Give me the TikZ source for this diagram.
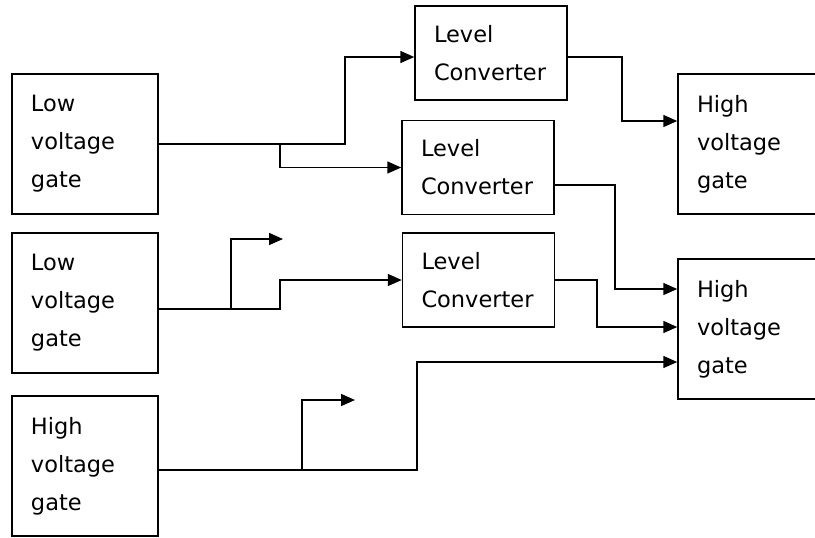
\documentclass[tikz,border=0pt]{standalone}
\usepackage{fontspec}
\setmainfont{DejaVu Sans}
\usetikzlibrary{arrows.meta}

\begin{document}
\begin{tikzpicture}[x=0.5pt,y=-0.5pt,line width=0.75pt,
        gatebox/.style={draw,rectangle,minimum width=73pt,minimum height=70pt,
            text width=54pt,inner xsep=9.5pt,inner ysep=0pt,align=left,
            font=\fontsize{11.25}{19}\selectfont},
        convbox/.style={gatebox,minimum width=76pt,minimum height=47pt,text width=57pt},
        wire/.style={-{Triangle[length=7pt,width=6pt]}}]
        \useasboundingbox(0,0)rectangle(815,537);
        \clip(0,0)rectangle(815,537);
        % gates on the left
        \node[gatebox](lv1)at(85,144){Low\\voltage\\gate};
        \node[gatebox](lv2)at(85,303){Low\\voltage\\gate};
        \node[gatebox](hvl)at(85,466){High\\voltage\\gate};
        % level converters
        \node[convbox](lc1)at(491,53){Level\\Converter};
        \node[convbox](lc2)at(478,167.5){Level\\Converter};
        \node[convbox](lc3)at(478.5,280){Level\\Converter};
        % gates on the right
        \node[gatebox](hva)at(751,144){High\\voltage\\gate};
        \node[gatebox](hvb)at(751,329){High\\voltage\\gate};
        % junctions and free ends
        \coordinate(j1)at(280,144);
        \coordinate(j2)at(231,309);
        \coordinate(j3)at(302,470);
        \coordinate(s1)at(283,239);
        \coordinate(s2)at(355,400);
        % wires
        \draw[wire](lv1.east)--(345,144)|-([yshift=-2pt]lc1.west);
        \draw[wire](j1)|-(lc2.west);
        \draw[wire]([yshift=-2pt]lc1.east)--(622,57)|-([yshift=11.5pt]hva.west);
        \draw[wire]([yshift=-8.75pt]lc2.east)--(615,185)|-([yshift=20pt]hvb.west);
        \draw[wire](lc3.east)--(597,280)|-([yshift=1pt]hvb.west);
        \draw[wire]([yshift=-3pt]lv2.east)--(280,309)|-(lc3.west);
        \draw[wire](j2)|-(s1);
        \draw[wire]([yshift=-2pt]hvl.east)--(417,470)|-([yshift=-16.5pt]hvb.west);
        \draw[wire](j3)|-(s2);
    \end{tikzpicture}
\end{document}
